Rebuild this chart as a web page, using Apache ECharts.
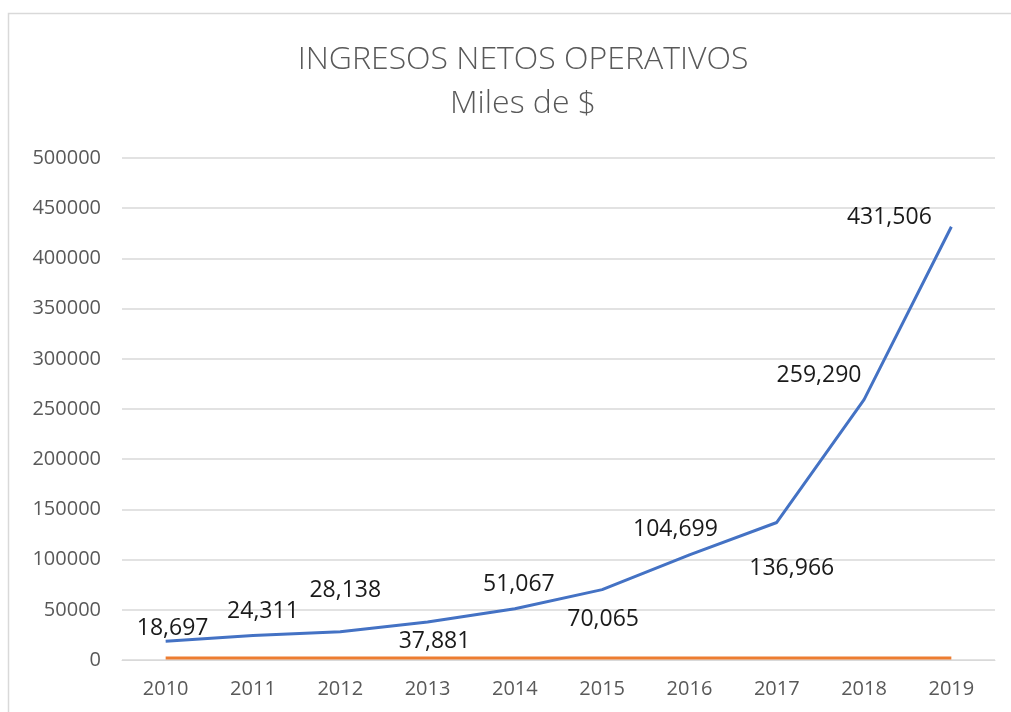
<!DOCTYPE html>
<html>
<head>
<meta charset="utf-8">
<script src="https://cdn.jsdelivr.net/npm/echarts@6/dist/echarts.min.js"></script>
<style>html,body{margin:0;padding:0;background:#fff}#c{width:1011px;height:712px}</style>
</head>
<body>
<div id="c"></div>
<script>
const categories = ['2010','2011','2012','2013','2014','2015','2016','2017','2018','2019'];
const ingresos = [18697, 24311, 28138, 37881, 51067, 70065, 104699, 136966, 259290, 431506];
const años = [2010, 2011, 2012, 2013, 2014, 2015, 2016, 2017, 2018, 2019];
const yTicks = { min: 0, max: 500000, interval: 50000 };

// label offsets [dx, dy] relative to point (layout only)
const labelOffsets = [[7,-13],[10,-24],[5,-41],[7,19],[4,-24],[1,30],[-14,-25],[15,46],[-45,-24],[-62,-9]];

const chart = echarts.init(document.getElementById('c'), null, {renderer:'canvas'});
const font = '"Open Sans", "Liberation Sans", sans-serif';
chart.setOption({
  animation: false,
  backgroundColor: '#fff',
  graphic: [{
    type: 'rect', shape: {x: 8.5, y: 13.5, width: 1010, height: 710},
    style: {fill: 'none', stroke: '#d9d9d9', lineWidth: 1.5}, silent: true, z: -1
  }],
  title: {
    text: 'INGRESOS NETOS OPERATIVOS\nMiles de $',
    left: 518, textAlign: 'center', top: 33,
    textStyle: {fontFamily: font, fontSize: 32, fontWeight: 300, color: '#595959', lineHeight: 44, align: 'center'}
  },
  grid: {left: 122, right: 16, top: 158, bottom: 52, containLabel: false},
  xAxis: {
    type: 'category', data: categories, boundaryGap: true,
    axisLine: {show: true, lineStyle: {color: '#d9d9d9'}},
    axisTick: {show: false},
    axisLabel: {fontFamily: font, fontSize: 20, color: '#595959', margin: 19}
  },
  yAxis: {
    type: 'value', min: yTicks.min, max: yTicks.max, interval: yTicks.interval,
    axisLine: {show: false}, axisTick: {show: false},
    splitLine: {lineStyle: {color: '#d9d9d9', width: 1.5}},
    axisLabel: {fontFamily: font, fontSize: 20, color: '#595959', margin: 21, formatter: v => String(v)}
  },
  series: [{
    type: 'line', data: ingresos.map((v, i) => ({
      value: v,
      label: {offset: labelOffsets[i]}
    })),
    symbol: 'circle', symbolSize: 0, showSymbol: true,
    lineStyle: {color: '#4472C4', width: 3}, itemStyle: {color: '#4472C4'},
    label: {
      show: true, position: 'inside', fontFamily: font, fontSize: 23, color: '#1a1a1a',
      formatter: p => p.value.toLocaleString('en-US')
    },
    z: 3
  }, {
    type: 'line', data: años, symbol: 'none',
    lineStyle: {color: '#ED7D31', width: 3}, itemStyle: {color: '#ED7D31'}, z: 2
  }]
});
</script>
</body>
</html>
